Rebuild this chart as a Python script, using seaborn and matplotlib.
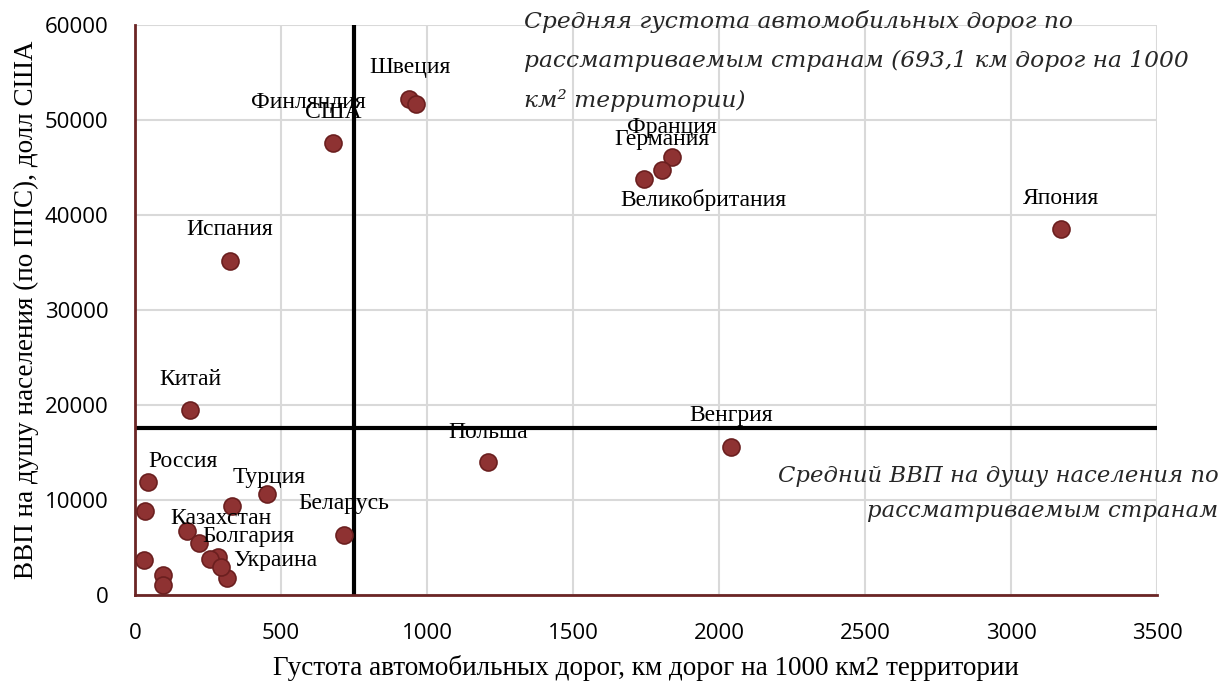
import pandas as pd
import matplotlib.pyplot as plt
import seaborn as sns

# Data
countries = ["Швеция", "Финляндия", "США", "Испания", "Китай", "Франция",
             "Германия", "Великобритания", "Япония", "Венгрия", "Польша",
             "Россия", "Турция", "Беларусь", "Казахстан", "Болгария", "Украина",
             "", "", "", "", "", "", "", ""]
road_density = [940, 961, 679, 326, 189, 1839, 1805, 1743, 3171, 2042, 1208,
                45, 453, 714, 178, 220, 316,
                34, 333, 31, 96, 96, 285, 257, 295]
gdp_per_capita = [52200, 51700, 47600, 35200, 19500, 46100, 44700, 43800, 38500,
                  15600, 14000, 11900, 10600, 6300, 6700, 5500, 1800,
                  8800, 9400, 3700, 2100, 1050, 4000, 3800, 2950]
avg_density = 750
avg_gdp = 17600

df = pd.DataFrame({"country": countries, "x": road_density, "y": gdp_per_capita})

# label offsets in pixels (label centre relative to point)
label_offsets = {
    "Швеция": (1, 32), "Финляндия": (-107, 1), "США": (0, 30), "Испания": (0, 31),
    "Китай": (0, 30), "Франция": (0, 30), "Германия": (0, 31),
    "Великобритания": (59, -21), "Япония": (0, 31), "Венгрия": (0, 31),
    "Польша": (0, 30), "Россия": (35, 20), "Турция": (2, 17), "Беларусь": (0, 32),
    "Казахстан": (34, 13), "Болгария": (49, 6), "Украина": (48, 17),
}

sns.set_theme(style="whitegrid")
plt.rcParams["font.family"] = ["Liberation Serif", "DejaVu Serif"]

fig = plt.figure(figsize=(12.24, 6.87), dpi=100)
ax = fig.add_axes([0.1103, 0.1339, 0.8350, 0.8297])

ax.grid(True, color="#d9d9d9", linewidth=1.5)
ax.axvline(avg_density, color="black", linewidth=3, zorder=2)
ax.axhline(avg_gdp, color="black", linewidth=3, zorder=2)

sns.scatterplot(data=df, x="x", y="y", ax=ax, s=150, color="#8e3232",
                edgecolor="#6b1f1f", linewidth=1.2, zorder=3, legend=False)

for _, row in df.iterrows():
    if row["country"]:
        dx, dy = label_offsets[row["country"]]
        ax.annotate(row["country"], (row["x"], row["y"]), xytext=(dx, dy),
                    textcoords="offset pixels", ha="center", va="center",
                    fontsize=17, color="black", zorder=4)

ax.set_xlim(0, 3500)
ax.set_ylim(0, 60000)
ax.set_xticks(range(0, 3501, 500))
ax.set_yticks(range(0, 60001, 10000))
for lbl in ax.get_xticklabels() + ax.get_yticklabels():
    lbl.set_family(["Open Sans", "DejaVu Sans"])
    lbl.set_fontsize(16)
    lbl.set_color("black")
ax.tick_params(axis="x", pad=20, length=0)
ax.tick_params(axis="y", pad=19, length=0)

for side in ["top", "right"]:
    ax.spines[side].set_visible(False)
for side in ["left", "bottom"]:
    ax.spines[side].set_color("#6b2525")
    ax.spines[side].set_linewidth(2)

ax.set_xlabel("Густота автомобильных дорог, км дорог на 1000 км2 территории",
              fontsize=19.5, labelpad=8, color="black")
ax.set_ylabel("ВВП на душу населения (по ППС), долл США",
              fontsize=19.5, labelpad=4, color="black")

note_font = ["DejaVu Serif"]
ax.text(0.381, 1.026, "Средняя густота автомобильных дорог по\n"
        "рассматриваемым странам (693,1 км дорог на 1000\n"
        "км² территории)", transform=ax.transAxes, ha="left", va="top",
        family=note_font, fontsize=16.8, style="italic", linespacing=1.95, zorder=5)
ax.text(1.06, 0.228, "Средний ВВП на душу населения по\nрассматриваемым странам",
        transform=ax.transAxes, ha="right", va="top", family=note_font,
        fontsize=16.4, style="italic", linespacing=1.75, zorder=5)

plt.savefig("out.png", dpi=100)
